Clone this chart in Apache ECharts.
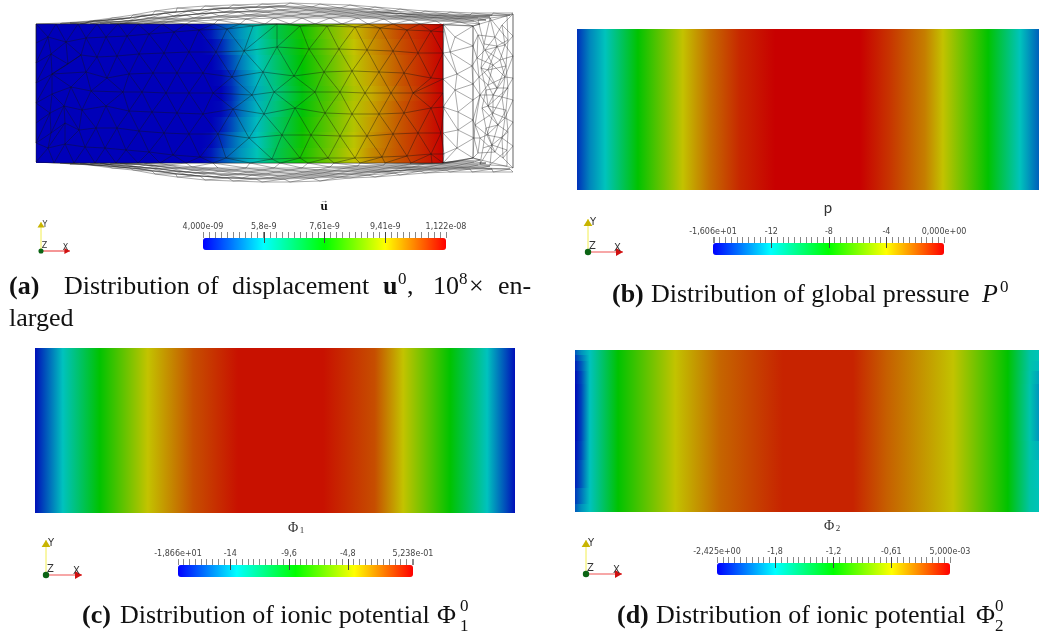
<!DOCTYPE html>
<html><head><meta charset="utf-8">
<style>html,body{margin:0;padding:0;background:#fff}#c{width:1039px;height:635px;filter:blur(.4px)}</style>
<script src="https://cdn.jsdelivr.net/npm/echarts@6/dist/echarts.min.js"></script>
</head><body><div id="c"></div>
<script>
// ---------- field values ----------
const dispX = [36,201,211,221,231,241,257,276,302,328,354,371,401,443];
const dispEdges = [24,39,55,70,86,101,117,132,148,163];
const dispRows = [
 [4,4,4.22,4.65,5.01,5.37,5.95,6.89,7.75,8.62,9.49,9.92,10.57,11.22],
 [4,4,4.07,4.36,4.87,5.30,5.88,6.74,7.68,8.55,9.41,9.85,10.50,11.22],
 [4,4,4,4.22,4.65,5.15,5.80,6.60,7.61,8.47,9.34,9.78,10.43,11.22],
 [4,4,4,4.07,4.43,5.01,5.66,6.46,7.54,8.40,9.27,9.70,10.43,11.22],
 [4,4,4,4.00,4.36,4.94,5.59,6.38,7.46,8.33,9.20,9.63,10.36,11.22],
 [4,4,4,4.07,4.43,5.01,5.66,6.46,7.54,8.40,9.27,9.70,10.43,11.22],
 [4,4,4,4.22,4.65,5.15,5.73,6.60,7.68,8.47,9.27,9.78,10.43,11.22],
 [4,4,4.07,4.43,4.87,5.30,5.80,6.74,7.75,8.55,9.34,9.85,10.50,11.22],
 [4,4,4.22,4.65,5.01,5.37,5.88,6.81,7.82,8.62,9.41,9.92,10.50,11.22]
];
const pressX = [0,.028,.061,.132,.229,.288,.353,.429,.613,.677,.753,.792,.89,.959,1];
const pressEdges = [0,1];
const pressRows = [[-15.1,-13.3,-12,-8,-4,-2.2,-.8,0,0,-1.1,-2.6,-4,-8,-12,-14.1]];
const phi1X = [0,.021,.058,.135,.235,.33,.423,.6,.708,.767,.865,.942,.979,1];
const phi1Edges = [0,1];
const phi1Rows = [[-18.3,-16.7,-13.9,-9.07,-4.28,-1.4,.1,.1,-1.4,-4.28,-9.07,-13.9,-16.7,-18.3]];
const phi2X = [0,.013,.032,.093,.216,.3125,.448,.599,.672,.815,.933,.981,1];
const phi2Edges = [0,.03,.07,.13,.21,.56,.68,.85,.95,1];
const phi2Rows = [
 [-2.15,-1.98,-1.82,-1.21,-.607,-.31,-.105,-.105,-.29,-.607,-1.21,-1.75,-1.80],
 [-2.25,-2.08,-1.82,-1.21,-.607,-.31,-.105,-.105,-.29,-.607,-1.21,-1.75,-1.80],
 [-2.33,-2.16,-1.82,-1.21,-.607,-.31,-.105,-.105,-.29,-.607,-1.21,-1.75,-1.85],
 [-2.38,-2.21,-1.82,-1.21,-.607,-.31,-.105,-.105,-.29,-.607,-1.21,-1.76,-1.92],
 [-2.40,-2.23,-1.82,-1.21,-.607,-.31,-.105,-.105,-.29,-.607,-1.21,-1.77,-1.96],
 [-2.38,-2.21,-1.82,-1.21,-.607,-.31,-.105,-.105,-.29,-.607,-1.21,-1.76,-1.88],
 [-2.33,-2.16,-1.82,-1.21,-.607,-.31,-.105,-.105,-.29,-.607,-1.21,-1.75,-1.82],
 [-2.25,-2.08,-1.82,-1.21,-.607,-.31,-.105,-.105,-.29,-.607,-1.21,-1.75,-1.80],
 [-2.15,-1.98,-1.82,-1.21,-.607,-.31,-.105,-.105,-.29,-.607,-1.21,-1.75,-1.80]
];
// ---------- colour bar scales ----------
const dispTicks = [4,5.805,7.61,9.415,11.22];
const dispLabels = ['4,000e-09','5,8e-9','7,61e-9','9,41e-9','1,122e-08'];
const pressTicks = [-16.06,-12,-8,-4,0];
const pressLabels = ['-1,606e+01','-12','-8','-4','0,000e+00'];
const phi1Ticks = [-18.66,-14.4,-9.6,-4.8,.5238];
const phi1Labels = ['-1,866e+01','-14','-9,6','-4,8','5,238e-01'];
const phi2Ticks = [-2.425,-1.82,-1.21,-.607,.005];
const phi2Labels = ['-2,425e+00','-1,8','-1,2','-0,61','5,000e-03'];
// ---------- wireframe nodes of the displaced mesh (panel a) ----------
const frontRows = [
 [[36,24],[56,24],[78,24],[97,24],[118,24],[138,24],[162,24],[186,24],[214,24],[240,24],[265,24],[290,24],[315,24],[342,24],[368,24],[393,24],[420,24],[443,25]],
 [[36,43],[48,37],[66,42],[86,38],[106,37],[127,36],[149,34],[174,32],[199,30],[227,29],[253,26],[277,24],[300,26],[327,26],[355,27],[380,28],[407,30],[431,31],[444,32]],
 [[36,63],[51,54],[68,64],[81,55],[97,57],[117,56],[139,54],[164,53],[189,52],[216,52],[244,51],[277,47],[309,49],[339,49],[367,50],[393,51],[418,53],[443,53]],
 [[36,83],[52,74],[86,72],[107,78],[129,74],[153,73],[177,73],[203,73],[232,77],[263,72],[294,76],[324,72],[352,71],[379,72],[404,73],[431,78],[443,79]],
 [[36,103],[52,94],[71,87],[91,91],[123,92],[142,92],[166,93],[189,93],[213,93],[252,95],[274,92],[315,92],[340,92],[365,93],[391,93],[413,93],[443,93]],
 [[36,123],[50,113],[64,106],[82,110],[106,106],[129,111],[152,112],[177,113],[203,114],[233,109],[264,114],[295,108],[325,113],[352,114],[379,114],[404,113],[431,108],[444,107]],
 [[36,143],[51,133],[65,123],[79,130],[96,128],[117,128],[139,131],[164,133],[189,134],[218,134],[249,138],[282,135],[311,135],[340,136],[367,136],[393,134],[418,133],[441,133]],
 [[48,148],[65,144],[85,147],[105,148],[126,150],[149,152],[173,155],[200,157],[226,158],[272,159],[300,158],[328,158],[355,158],[382,157],[407,156],[431,154],[444,154]],
 [[36,162],[54,163],[74,163],[95,163],[116,163],[138,163],[160,163],[186,163],[213,163],[250,163],[280,163],[308,163],[334,163],[360,163],[385,163],[411,163],[432,163],[443,163]]
];
const topRows = [
 [[36,24],[62,23],[90,21],[112,18],[133,15],[155,11],[177,8],[205,6],[233,5],[262,4],[290,3],[320,4],[350,5],[375,7],[400,9],[425,11],[450,12],[472,13],[493,13],[513,13]],
 [[60,24],[85,23],[108,20],[130,18],[152,15],[176,12],[200,10],[228,8],[256,7],[284,6],[312,7],[340,8],[368,9],[394,11],[420,13],[446,14],[470,15],[492,15],[510,15]],
 [[70,23],[95,21],[120,19],[142,16],[165,13],[188,11],[214,9],[242,8],[270,7],[298,8],[326,9],[354,10],[381,12],[407,14],[433,15],[458,16],[481,16]],
 [[80,24],[104,22],[128,21],[150,18],[174,16],[198,14],[224,12],[252,11],[280,10],[308,10],[336,11],[364,12],[390,13],[416,15],[442,16],[468,17],[490,17]],
 [[90,24],[114,22],[138,20],[162,18],[186,15],[211,13],[238,12],[266,12],[294,12],[322,12],[350,13],[377,14],[403,16],[429,17],[455,18],[478,18]],
 [[100,24],[124,23],[146,21],[170,19],[194,18],[220,16],[248,15],[276,14],[304,14],[332,14],[360,15],[386,16],[412,17],[438,18],[464,19],[486,20]],
 [[110,24],[134,23],[158,22],[182,20],[206,18],[234,17],[262,16],[290,16],[318,16],[346,16],[373,17],[399,18],[425,19],[450,20],[474,21]],
 [[120,24],[144,24],[168,22],[192,21],[218,20],[246,19],[274,18],[302,18],[330,18],[358,18],[384,19],[410,20],[436,21],[460,22],[480,24]],
 [[162,24],[186,24],[214,24],[240,24],[265,24],[290,24],[315,24],[342,24],[368,24],[393,24],[420,24],[443,25],[473,26]]
];
const bottomRows = [
 [[36,162],[62,163],[90,165],[112,168],[133,170],[155,174],[177,177],[205,180],[233,181],[262,182],[290,182],[320,181],[350,178],[375,177],[400,175],[425,173],[450,172],[472,172],[493,172],[513,172]],
 [[60,163],[85,164],[108,166],[130,168],[152,171],[176,174],[200,176],[228,178],[256,179],[284,179],[312,178],[340,177],[368,175],[394,173],[420,171],[446,170],[470,169],[492,169],[510,169]],
 [[70,164],[95,165],[120,167],[142,169],[165,172],[188,175],[214,177],[242,178],[270,178],[298,177],[326,176],[354,174],[381,172],[407,170],[433,169],[458,168],[481,168]],
 [[80,163],[104,164],[128,166],[150,168],[174,171],[198,173],[224,175],[252,175],[280,176],[308,175],[336,174],[364,172],[390,171],[416,169],[442,168],[468,167],[490,166]],
 [[90,163],[114,165],[138,167],[162,169],[186,172],[211,173],[238,174],[266,174],[294,174],[322,173],[350,171],[377,170],[403,168],[429,167],[455,166],[478,165]],
 [[100,163],[124,164],[146,165],[170,168],[194,170],[220,171],[248,172],[276,172],[304,172],[332,171],[360,169],[386,168],[412,167],[438,165],[464,164],[486,163]],
 [[110,163],[134,164],[158,166],[182,168],[206,169],[234,170],[262,170],[290,170],[318,170],[346,168],[373,167],[399,166],[425,164],[450,163],[474,162]],
 [[120,163],[144,163],[168,165],[192,167],[218,168],[246,168],[274,168],[302,168],[330,167],[358,166],[384,165],[410,164],[436,163],[460,161],[480,160]],
 [[160,163],[186,163],[213,163],[250,163],[280,163],[308,163],[334,163],[360,163],[385,163],[411,163],[432,163],[443,163],[473,158]]
];
const sideColumns = [
 [[443,24],[443,53],[443,79],[443,107],[443,133],[443,154],[443,163]],
 [[455,37],[450,52],[457,74],[455,90],[458,112],[458,130],[457,148]],
 [[473,26],[473,46],[472,66],[473,84],[473,100],[473,120],[474,138],[473,158]],
 [[478,35],[477,58],[479,77],[480,95],[475,125],[480,138],[478,153]],
 [[495,37],[485,50],[493,65],[488,85],[493,95],[493,113],[487,135],[495,152]],
 [[502,25],[505,45],[500,60],[505,77],[502,97],[505,118],[502,138],[503,158]],
 [[513,14],[513,36],[513,56],[513,78],[513,100],[513,122],[513,146],[513,168]]
];
const backColumns = [
 [[478,20],[484,44],[481,68],[486,90],[482,108],[486,128],[483,148],[480,164]],
 [[490,18],[497,46],[488,70],[497,88],[488,106],[498,125],[492,145],[490,165]],
 [[507,16],[508,40],[506,66],[508,88],[506,110],[508,132],[507,150],[507,166]]
];

// ---------- helpers ----------
const fieldRamp = [[0,0,185],[0,195,190],[0,195,0],[195,195,0],[200,0,0]];
const barRamp = ['#0000ff','#00ffff','#00ff00','#ffff00','#ff0000'];
function fieldColor(v,min,max){
  const t=Math.min(.9999,Math.max(0,(v-min)/(max-min)))*4, i=Math.floor(t), f=t-i;
  const a=fieldRamp[i], b=fieldRamp[i+1];
  return 'rgb('+a.map((c,k)=>Math.round(c+(b[k]-c)*f)).join(',')+')';
}
function pairEdges(a,b,k){ // triangulated strip between two hand-read node lines
  const out=[]; let i=0,j=0;
  const add=(p,q)=>out.push([p[0],p[1],q[0],q[1]]);
  while(i<a.length&&j<b.length){
    add(a[i],b[j]);
    const na=i+1<a.length?a[i+1][k]:Infinity, nb=j+1<b.length?b[j+1][k]:Infinity;
    if(na===Infinity&&nb===Infinity)break;
    if(na<=nb)i++;else j++;
  }
  return out;
}
function lineEdges(a){const o=[];for(let i=0;i+1<a.length;i++)o.push([a[i][0],a[i][1],a[i+1][0],a[i+1][1]]);return o;}
function meshFrom(rows,k){let o=[];rows.forEach((r,i)=>{o=o.concat(lineEdges(r));if(i+1<rows.length)o=o.concat(pairEdges(r,rows[i+1],k));});return o;}

const frontEdges = meshFrom(frontRows,0).concat([[36,24,36,162],[443,25,443,163]]);
const wireEdges = meshFrom(topRows,0).concat(meshFrom(bottomRows,0),meshFrom(sideColumns,1),meshFrom(backColumns,1),
  [[473,26,473,158],[513,14,513,168],[473,26,513,14],[473,158,513,168],[443,24,473,26],[443,163,473,158]]);

const panels=[
 {x:dispX,edges:dispEdges,rows:dispRows,ticks:dispTicks,labels:dispLabels,step:.1805,anchor:7.61,
  rect:[36,24,407,139],xr:[36,443],yr:[163,24],bar:[203,238,243,12]},
 {x:pressX,edges:pressEdges,rows:pressRows,ticks:pressTicks,labels:pressLabels,step:.4,anchor:-8,
  rect:[577,29,462,161],xr:[0,1],yr:[1,0],bar:[713,243,231,12]},
 {x:phi1X,edges:phi1Edges,rows:phi1Rows,ticks:phi1Ticks,labels:phi1Labels,step:.48,anchor:-9.6,
  rect:[35,348,480,165],xr:[0,1],yr:[1,0],bar:[178,565,235,12]},
 {x:phi2X,edges:phi2Edges,rows:phi2Rows,ticks:phi2Ticks,labels:phi2Labels,step:.0607,anchor:-1.21,
  rect:[575,350,464,162],xr:[0,1],yr:[1,0],bar:[717,563,233,12]}
];
const grid=[],xAxis=[],yAxis=[],series=[],visualMap=[];
panels.forEach((p,n)=>{
  const min=p.ticks[0],max=p.ticks[4];
  const gi=grid.length;
  grid.push({left:p.rect[0],top:p.rect[1],width:p.rect[2],height:p.rect[3]});
  const xi=xAxis.length;
  xAxis.push({type:'value',gridIndex:gi,min:p.xr[0],max:p.xr[1],show:false});
  yAxis.push({type:'value',gridIndex:gi,min:p.yr[1],max:p.yr[0],inverse:true,show:false});
  const yi=yAxis.length-1;
  series.push({type:'custom',name:'field'+n,xAxisIndex:xi,yAxisIndex:yi,z:2,silent:true,
    data:p.rows.map((r,i)=>[p.x[0],p.edges[i]]),
    renderItem(params,api){
      const i=params.dataIndex,r=p.rows[i],L=p.x.length-1;
      const a=api.coord([p.x[0],p.edges[i]]),b=api.coord([p.x[L],p.edges[i+1]]);
      const y0=Math.round(a[1]),y1=Math.round(b[1]);
      const stops=p.x.map((x,k)=>({offset:(x-p.x[0])/(p.x[L]-p.x[0]),color:fieldColor(r[k],min,max)}));
      return {type:'rect',shape:{x:a[0],y:y0,width:b[0]-a[0],height:y1-y0},
        style:{fill:new echarts.graphic.LinearGradient(0,0,1,0,stops)}};
    }});
  if(n===0){
    const edgeSeries=(name,data,z,stroke,w)=>({type:'custom',name,xAxisIndex:xi,yAxisIndex:yi,z,silent:true,data,
      renderItem(params,api){
        const s=api.coord([api.value(0),api.value(1)]),e=api.coord([api.value(2),api.value(3)]);
        return {type:'line',shape:{x1:s[0],y1:s[1],x2:e[0],y2:e[1]},style:{stroke,lineWidth:w}};
      }});
    series.push(edgeSeries('wire',wireEdges,1,'rgba(30,30,30,.5)',.75));
    series.push(edgeSeries('front',frontEdges,3,'rgba(20,20,20,.5)',.8));
  }
  const [bx,by,bw,bh]=p.bar;
  visualMap.push({type:'continuous',min,max,seriesIndex:[],orient:'horizontal',left:bx,top:by,
    itemWidth:bh,itemHeight:bw,padding:0,text:null,showLabel:false,calculable:false,hoverLink:false,
    inRange:{color:barRamp},z:3});
  const bg=grid.length;
  grid.push({left:bx,top:by,width:bw,height:bh});
  const minor=[min,max];
  for(let v=p.anchor;v>min;v-=p.step)minor.push(v);
  for(let v=p.anchor;v<max;v+=p.step)minor.push(v);
  const byVal=new Map(p.ticks.map((t,i)=>[t,p.labels[i]]));
  xAxis.push({type:'value',gridIndex:bg,position:'top',min,max,
    axisLine:{show:false,onZero:false},splitLine:{show:false},
    axisTick:{show:true,length:6,customValues:minor,lineStyle:{color:'#888',width:1}},
    axisLabel:{show:true,customValues:p.ticks,margin:7,fontFamily:'DejaVu Sans',fontSize:8,color:'#444',
      hideOverlap:false,showMinLabel:true,showMaxLabel:true,formatter:v=>byVal.get(v)??''},z:10});
  xAxis.push({type:'value',gridIndex:bg,position:'top',offset:-5,min,max,
    axisLine:{show:false,onZero:false},splitLine:{show:false},axisLabel:{show:false},
    axisTick:{show:true,length:11,customValues:p.ticks.slice(1,4),lineStyle:{color:'#444',width:1}},z:10});
  yAxis.push({type:'value',gridIndex:bg,min:0,max:1,show:false});
});

// ---------- captions, scalar titles, orientation triads ----------
const serif='"Liberation Serif"';
const T=(text,x,y,size,o={})=>({type:'text',silent:true,style:Object.assign({text,x,y,
  font:(o.w||'')+' '+size+'px '+(o.f||serif),fill:o.c||'#111',textAlign:o.a||'left',textVerticalAlign:'middle'})});
const triad=(ox,oy,yTip,xTip,fs)=>{
  const h=fs*.7;
  return [
   {type:'line',silent:true,shape:{x1:ox,y1:oy,x2:ox,y2:yTip},style:{stroke:'#f2ee50',lineWidth:1}},
   {type:'line',silent:true,shape:{x1:ox,y1:oy,x2:xTip,y2:oy},style:{stroke:'#ef5050',lineWidth:1.2}},
   {type:'polygon',silent:true,shape:{points:[[ox,yTip],[ox-h/1.6,yTip+h],[ox+h/1.6,yTip+h]]},style:{fill:'#c8b400'}},
   {type:'polygon',silent:true,shape:{points:[[xTip,oy],[xTip-h,oy-h/1.8],[xTip-h,oy+h/1.8]]},style:{fill:'#d01010'}},
   {type:'circle',silent:true,shape:{cx:ox,cy:oy,r:fs*.32},style:{fill:'#0b6414'}},
   T('Y',ox+fs*.2,yTip+fs*.35,fs,{f:'"DejaVu Sans"',c:'#333'}),
   T('X',xTip-fs*.9,oy-fs*.35,fs,{f:'"DejaVu Sans"',c:'#333'}),
   T('Z',ox+fs*.1,oy-fs*.6,fs,{f:'"DejaVu Sans"',c:'#333'})
  ];
};
const cap=26, sup=17;
const graphicEls=[
  T('u',324,207,13,{w:'bold',a:'center'}),T('\u2192',324,201,8,{w:'bold',a:'center'}),
  T('p',828,208,15,{f:'Lato',a:'center',c:'#333'}),
  T('\u03A6',293,528,14,{a:'center',c:'#333'}),T('1',302,531,9,{a:'center',c:'#333'}),
  T('\u03A6',829,526,14,{a:'center',c:'#333'}),T('2',838,529,9,{a:'center',c:'#333'}),
  ...triad(41,251,222,70,8),
  ...triad(588,252,219,623,10),
  ...triad(46,575,540,82,10),
  ...triad(586,574,540,622,10),
  T('(a)',9,287,cap,{w:'bold'}),T('Distribution',64,287,cap),T('of',197,287,cap),
  T('displacement',232,287,cap),T('u',383,287,cap,{w:'bold'}),T('0',398,280,sup),
  T(',',407,287,cap),T('10',433,287,cap),T('8',459,280,sup),T('\u00D7',469,287,cap),T('en-',498,287,cap),
  T('larged',9,319,cap),
  T('(b)',612,295,cap,{w:'bold'}),T('Distribution of global pressure',651,295,cap),
  T('P',982,295,cap,{w:'italic'}),T('0',1000,288,sup),
  T('(c)',82,616,cap,{w:'bold'}),T('Distribution of ionic potential',120,616,cap),
  T('\u03A6',437,616,cap),T('0',460,607,sup),T('1',460,627,sup),
  T('(d)',617,616,cap,{w:'bold'}),T('Distribution of ionic potential',656,616,cap),
  T('\u03A6',976,616,cap),T('0',995,607,sup),T('2',995,627,sup)
];

const chart=echarts.init(document.getElementById('c'),null,{renderer:'canvas'});
chart.setOption({animation:false,backgroundColor:'#fff',tooltip:{show:false},
  grid,xAxis,yAxis,series,visualMap,graphic:{elements:graphicEls}});
</script></body></html>
